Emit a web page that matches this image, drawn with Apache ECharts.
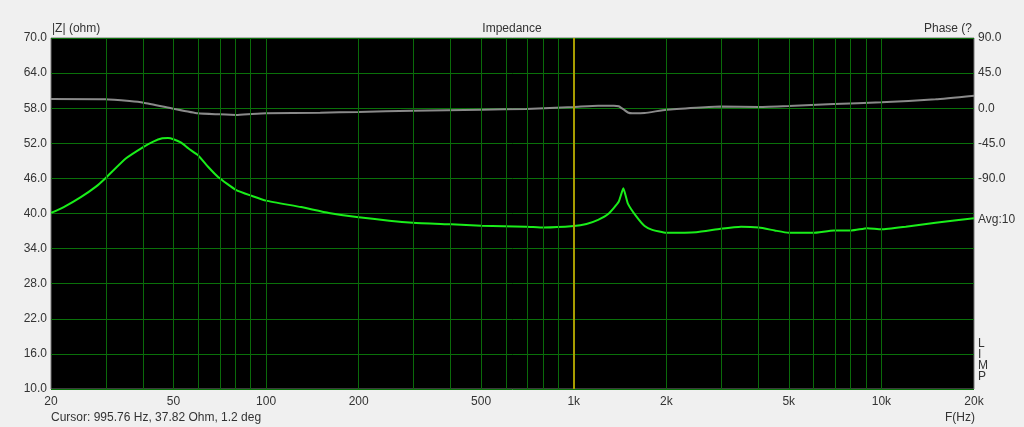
<!DOCTYPE html>
<html>
<head>
<meta charset="utf-8">
<script src="https://cdn.jsdelivr.net/npm/echarts@6/dist/echarts.min.js"></script>
<style>
    html, body { margin: 0; padding: 0; background: #f0f0f0; }
    #chart { width: 1024px; height: 427px; }
</style>
</head>
<body>
<div id="chart"></div>
<script>
// impedance curve
const zFreq = [20, 22, 25, 28, 30, 35, 40, 43, 46, 48, 50, 53, 56, 60, 65, 70, 80, 90, 100, 130, 160, 200, 300, 400, 500, 700, 800, 1000, 1100, 1200, 1300, 1400, 1450, 1500, 1600, 1700, 1800, 2000, 2500, 3000, 3500, 4000, 4500, 5000, 6000, 7000, 8000, 9000, 10000, 12000, 15000, 20000];
const zOhm = [40.1, 41.1, 42.8, 44.6, 46.0, 49.4, 51.4, 52.3, 52.85, 52.9, 52.7, 52.1, 51.1, 50.0, 47.9, 46.2, 44.0, 43.0, 42.2, 41.1, 40.1, 39.35, 38.4, 38.15, 37.9, 37.75, 37.6, 37.85, 38.2, 38.9, 40.0, 42.0, 44.3, 41.7, 39.45, 37.85, 37.2, 36.7, 36.8, 37.4, 37.75, 37.6, 37.1, 36.7, 36.7, 37.1, 37.1, 37.5, 37.3, 37.75, 38.4, 39.2];

// phase curve
const pFreq = [20, 30, 36, 40, 50, 60, 70, 80, 90, 100, 150, 200, 300, 500, 700, 1000, 1200, 1350, 1400, 1450, 1500, 1550, 1700, 2000, 2500, 3000, 4000, 5000, 7000, 10000, 15000, 20000];
const pDeg = [11.8, 11.5, 9.2, 7.1, -0.6, -6.5, -7.8, -8.7, -7.4, -6.5, -5.7, -4.9, -3.2, -1.9, -1.0, 1.5, 3.2, 3.2, 2.5, -1.4, -5.5, -6.5, -6.2, -1.9, 0.7, 2.2, 1.5, 2.8, 5.4, 7.5, 11.4, 16.0];

const gridFreqs = [30, 40, 50, 60, 70, 80, 90, 100, 200, 300, 400, 500, 600, 700, 800, 900, 1000, 2000, 3000, 4000, 5000, 6000, 7000, 8000, 9000, 10000];
const labelFreqs = [20, 50, 100, 200, 500, 1000, 2000, 5000, 10000, 20000];
const cursorFreq = 995.76;

const lg = Math.log10;
const font = 'Liberation Sans';
const txt = '#333';

function fmtFreq(v) {
    const f = Math.round(Math.pow(10, v));
    return f >= 1000 ? (f / 1000) + 'k' : String(f);
}

let chart = echarts.init(document.getElementById('chart'));
chart.setOption({
    backgroundColor: '#f0f0f0',
    animation: false,
    textStyle: { fontFamily: font },
    grid: {
        show: true,
        left: 51, right: 50, top: 38, bottom: 38,
        backgroundColor: '#000',
        borderColor: '#777',
        borderWidth: 1
    },
    xAxis: {
        type: 'value',
        min: lg(20), max: lg(20000),
        axisLine: { show: false },
        axisTick: { show: false },
        axisLabel: {
            customValues: labelFreqs.map(lg),
            formatter: fmtFreq,
            color: txt, fontSize: 12, fontFamily: font, margin: 7
        },
        splitLine: { show: false }
    },
    yAxis: [{
        type: 'value',
        min: 10, max: 70, interval: 6,
        axisLine: { show: false },
        axisTick: { show: false },
        axisLabel: {
            formatter: v => v.toFixed(1),
            color: txt, fontSize: 12, fontFamily: font, margin: 4
        },
        splitLine: { show: true, lineStyle: { color: '#0a700a', width: 1 } }
    }, {
        type: 'value',
        min: -360, max: 90, interval: 45,
        axisLine: { show: false },
        axisTick: { show: false },
        axisLabel: {
            formatter: v => v >= -90 ? v.toFixed(1) : '',
            color: txt, fontSize: 12, fontFamily: font, margin: 4
        },
        splitLine: { show: false }
    }],
    graphic: [
        { type: 'text', left: 52, top: 23, style: { text: '|Z| (ohm)', fill: txt, font: '12px ' + font } },
        { type: 'text', left: 'center', top: 23, style: { text: 'Impedance', fill: txt, font: '12px ' + font } },
        { type: 'text', right: 52, top: 23, style: { text: 'Phase (?', fill: txt, font: '12px ' + font } },
        { type: 'text', left: 978, top: 214, style: { text: 'Avg:10', fill: txt, font: '12px ' + font } },
        { type: 'text', left: 978, top: 338, style: { text: 'L\nI\nM\nP', fill: txt, font: '12px ' + font, lineHeight: 11 } },
        { type: 'text', left: 51, top: 412, style: { text: 'Cursor: 995.76 Hz, 37.82 Ohm, 1.2 deg', fill: txt, font: '12px ' + font } },
        { type: 'text', left: 945, top: 412, style: { text: 'F(Hz)', fill: txt, font: '12px ' + font } }
    ],
    series: [{
        // vertical frequency grid
        name: 'grid',
        type: 'line',
        data: [],
        silent: true,
        z: 1,
        markLine: {
            silent: true,
            symbol: 'none',
            label: { show: false },
            lineStyle: { color: '#0a6a0a', width: 1, type: 'solid' },
            data: gridFreqs.map(f => ({ xAxis: lg(f) }))
        }
    }, {
        name: 'Phase',
        type: 'line',
        yAxisIndex: 1,
        showSymbol: false,
        smooth: 0.15,
        data: pFreq.map((f, i) => [lg(f), pDeg[i]]),
        lineStyle: { color: '#8a8a8a', width: 2 },
        z: 3
    }, {
        name: '|Z|',
        type: 'line',
        showSymbol: false,
        smooth: 0.15,
        data: zFreq.map((f, i) => [lg(f), zOhm[i]]),
        lineStyle: { color: '#1aee1a', width: 2 },
        z: 4,
        markLine: {
            silent: true,
            symbol: 'none',
            label: { show: false },
            lineStyle: { color: '#a89c00', width: 2, type: 'solid' },
            data: [{ xAxis: lg(cursorFreq) }]
        }
    }]
});
</script>
</body>
</html>
